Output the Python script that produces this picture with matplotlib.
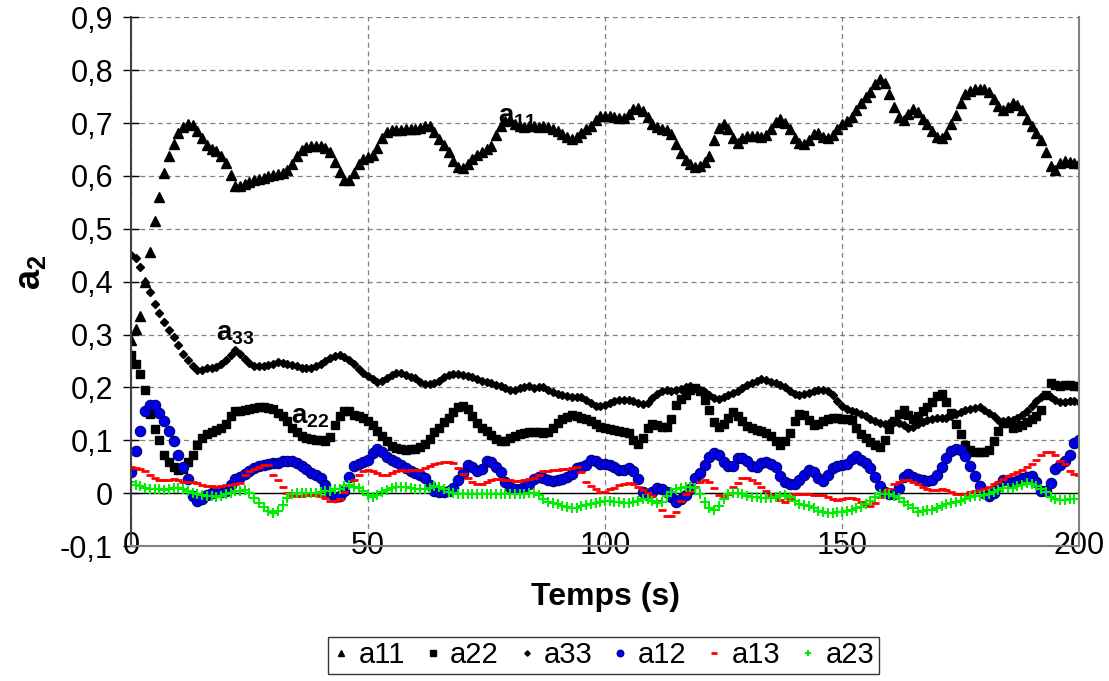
import numpy as np
import matplotlib
matplotlib.use("Agg")
import matplotlib.pyplot as plt

plt.rcParams['font.family'] = ['Liberation Sans', 'DejaVu Sans']
plt.rcParams['mathtext.fontset'] = 'custom'
plt.rcParams['mathtext.rm'] = 'Liberation Sans'
plt.rcParams['mathtext.bf'] = 'Liberation Sans:bold'

# temps (s), un point par seconde
temps = np.arange(0, 201)

a11 = [0.290, 0.310, 0.336, 0.400, 0.456, 0.515, 0.560, 0.605, 0.637, 0.660,
       0.681, 0.692, 0.699, 0.697, 0.685, 0.672, 0.658, 0.651, 0.647, 0.637,
       0.624, 0.602, 0.580, 0.581, 0.585, 0.589, 0.592, 0.595, 0.597, 0.599,
       0.601, 0.603, 0.606, 0.612, 0.623, 0.637, 0.649, 0.654, 0.656, 0.657,
       0.657, 0.652, 0.645, 0.627, 0.608, 0.592, 0.593, 0.605, 0.622, 0.632,
       0.636, 0.640, 0.652, 0.671, 0.683, 0.686, 0.687, 0.687, 0.688, 0.688,
       0.689, 0.690, 0.694, 0.695, 0.684, 0.670, 0.658, 0.646, 0.628, 0.617,
       0.615, 0.622, 0.632, 0.640, 0.645, 0.650, 0.657, 0.678, 0.695, 0.704,
       0.705, 0.698, 0.695, 0.693, 0.694, 0.695, 0.693, 0.694, 0.692, 0.689,
       0.685, 0.680, 0.674, 0.670, 0.674, 0.682, 0.688, 0.694, 0.705, 0.713,
       0.714, 0.714, 0.712, 0.710, 0.710, 0.718, 0.727, 0.728, 0.722, 0.711,
       0.698, 0.692, 0.689, 0.687, 0.680, 0.660, 0.643, 0.630, 0.622, 0.617,
       0.619, 0.627, 0.638, 0.668, 0.690, 0.698, 0.688, 0.672, 0.662, 0.672,
       0.676, 0.676, 0.675, 0.674, 0.677, 0.688, 0.702, 0.707, 0.700, 0.688,
       0.672, 0.663, 0.660, 0.667, 0.679, 0.682, 0.674, 0.671, 0.677, 0.688,
       0.699, 0.704, 0.712, 0.725, 0.738, 0.750, 0.758, 0.774, 0.784, 0.776,
       0.755, 0.730, 0.712, 0.706, 0.718, 0.727, 0.720, 0.708, 0.698, 0.685,
       0.674, 0.672, 0.680, 0.698, 0.715, 0.737, 0.755, 0.761, 0.765, 0.765,
       0.765, 0.758, 0.746, 0.732, 0.725, 0.730, 0.737, 0.735, 0.724, 0.708,
       0.695, 0.682, 0.667, 0.645, 0.618, 0.612, 0.624, 0.629, 0.626, 0.624,
       0.624]

a22 = [0.261, 0.245, 0.225, 0.195, 0.150, 0.122, 0.100, 0.072, 0.058, 0.050,
       0.043, 0.046, 0.058, 0.073, 0.091, 0.104, 0.112, 0.116, 0.119, 0.123,
       0.130, 0.145, 0.155, 0.156, 0.157, 0.159, 0.161, 0.163, 0.163, 0.161,
       0.159, 0.152, 0.146, 0.137, 0.124, 0.115, 0.108, 0.105, 0.103, 0.101,
       0.100, 0.099, 0.106, 0.128, 0.145, 0.156, 0.155, 0.148, 0.145, 0.142,
       0.137, 0.128, 0.118, 0.108, 0.099, 0.090, 0.086, 0.083, 0.082, 0.083,
       0.084, 0.087, 0.093, 0.102, 0.115, 0.124, 0.134, 0.143, 0.153, 0.162,
       0.164, 0.160, 0.146, 0.133, 0.123, 0.117, 0.110, 0.103, 0.098, 0.099,
       0.104, 0.108, 0.111, 0.113, 0.115, 0.116, 0.116, 0.114, 0.115, 0.123,
       0.132, 0.140, 0.144, 0.147, 0.145, 0.142, 0.141, 0.137, 0.130, 0.125,
       0.123, 0.121, 0.119, 0.118, 0.116, 0.114, 0.100, 0.093, 0.105, 0.123,
       0.131, 0.128, 0.125, 0.126, 0.140, 0.166, 0.178, 0.186, 0.195, 0.198,
       0.193, 0.177, 0.158, 0.135, 0.125, 0.130, 0.142, 0.153, 0.145, 0.136,
       0.127, 0.123, 0.120, 0.117, 0.113, 0.108, 0.098, 0.092, 0.098, 0.113,
       0.136, 0.149, 0.148, 0.139, 0.128, 0.131, 0.137, 0.141, 0.142, 0.143,
       0.141, 0.141, 0.139, 0.124, 0.111, 0.104, 0.097, 0.092, 0.088, 0.100,
       0.122, 0.137, 0.150, 0.157, 0.148, 0.141, 0.146, 0.156, 0.163, 0.173,
       0.183, 0.188, 0.172, 0.152, 0.130, 0.112, 0.092, 0.082, 0.078, 0.078,
       0.078, 0.081, 0.099, 0.118, 0.132, 0.132, 0.123, 0.125, 0.128, 0.134,
       0.140, 0.146, 0.158, 0.185, 0.208, 0.205, 0.202, 0.204, 0.204, 0.203,
       0.202]

a33 = [0.450, 0.445, 0.428, 0.400, 0.380, 0.357, 0.340, 0.324, 0.308, 0.296,
       0.280, 0.264, 0.252, 0.240, 0.233, 0.232, 0.236, 0.236, 0.238, 0.245,
       0.252, 0.262, 0.270, 0.263, 0.254, 0.247, 0.241, 0.240, 0.241, 0.243,
       0.245, 0.248, 0.246, 0.244, 0.243, 0.240, 0.237, 0.236, 0.236, 0.241,
       0.245, 0.250, 0.256, 0.260, 0.261, 0.258, 0.252, 0.244, 0.234, 0.227,
       0.222, 0.216, 0.211, 0.212, 0.218, 0.224, 0.228, 0.228, 0.224, 0.219,
       0.217, 0.211, 0.207, 0.206, 0.208, 0.213, 0.219, 0.224, 0.226, 0.226,
       0.224, 0.221, 0.219, 0.215, 0.212, 0.210, 0.208, 0.205, 0.202, 0.199,
       0.196, 0.195, 0.198, 0.201, 0.202, 0.199, 0.200, 0.201, 0.196, 0.191,
       0.188, 0.186, 0.184, 0.181, 0.181, 0.181, 0.176, 0.170, 0.165, 0.164,
       0.167, 0.171, 0.174, 0.176, 0.177, 0.176, 0.174, 0.171, 0.168, 0.171,
       0.180, 0.188, 0.193, 0.195, 0.193, 0.195, 0.197, 0.200, 0.202, 0.199,
       0.196, 0.191, 0.186, 0.180, 0.179, 0.181, 0.185, 0.189, 0.194, 0.199,
       0.204, 0.209, 0.212, 0.215, 0.214, 0.211, 0.209, 0.205, 0.200, 0.193,
       0.188, 0.186, 0.187, 0.190, 0.194, 0.195, 0.196, 0.194, 0.186, 0.175,
       0.165, 0.159, 0.156, 0.153, 0.150, 0.145, 0.141, 0.137, 0.133, 0.130,
       0.133, 0.135, 0.132, 0.128, 0.123, 0.126, 0.130, 0.135, 0.138, 0.141,
       0.143, 0.142, 0.143, 0.146, 0.149, 0.153, 0.158, 0.160, 0.161, 0.162,
       0.157, 0.152, 0.145, 0.139, 0.137, 0.138, 0.139, 0.143, 0.148, 0.155,
       0.164, 0.174, 0.181, 0.185, 0.182, 0.176, 0.172, 0.172, 0.175, 0.175,
       0.173]

a12 = [0.040, 0.080, 0.117, 0.155, 0.166, 0.166, 0.152, 0.137, 0.117, 0.098,
       0.073, 0.049, 0.026, -0.006, -0.014, -0.012, -0.004, 0.000, 0.002, 0.003,
       0.004, 0.015, 0.026, 0.030, 0.036, 0.042, 0.047, 0.052, 0.054, 0.056,
       0.057, 0.057, 0.060, 0.061, 0.060, 0.057, 0.052, 0.045, 0.038, 0.034,
       0.029, 0.016, 0.000, -0.007, -0.006, 0.004, 0.030, 0.052, 0.056, 0.058,
       0.063, 0.076, 0.083, 0.078, 0.068, 0.062, 0.058, 0.053, 0.047, 0.042,
       0.039, 0.034, 0.028, 0.015, 0.004, 0.002, 0.002, 0.004, 0.010, 0.024,
       0.038, 0.053, 0.050, 0.042, 0.046, 0.061, 0.059, 0.050, 0.040, 0.022,
       0.012, 0.008, 0.008, 0.012, 0.018, 0.026, 0.031, 0.028, 0.025, 0.023,
       0.024, 0.027, 0.031, 0.037, 0.048, 0.050, 0.054, 0.062, 0.060, 0.056,
       0.055, 0.054, 0.050, 0.044, 0.043, 0.048, 0.041, 0.026, 0.002, -0.003,
       0.002, 0.009, 0.008, 0.002, -0.008, -0.016, -0.012, -0.003, 0.008, 0.028,
       0.038, 0.054, 0.069, 0.076, 0.072, 0.059, 0.051, 0.052, 0.066, 0.067,
       0.060, 0.052, 0.050, 0.057, 0.059, 0.056, 0.050, 0.033, 0.021, 0.017,
       0.018, 0.024, 0.034, 0.044, 0.040, 0.028, 0.023, 0.034, 0.047, 0.052,
       0.053, 0.055, 0.065, 0.070, 0.063, 0.057, 0.048, 0.030, 0.014, 0.003,
       -0.001, -0.001, 0.009, 0.030, 0.036, 0.030, 0.026, 0.025, 0.023, 0.025,
       0.034, 0.049, 0.066, 0.079, 0.084, 0.081, 0.070, 0.052, 0.032, 0.014,
       0.000, -0.006, 0.001, 0.014, 0.025, 0.025, 0.021, 0.023, 0.028, 0.031,
       0.032, 0.022, 0.005, 0.004, 0.020, 0.045, 0.053, 0.060, 0.073, 0.095,
       0.100]

a13 = [0.050, 0.047, 0.045, 0.041, 0.035, 0.028, 0.024, 0.024, 0.025, 0.026,
       0.025, 0.022, 0.022, 0.022, 0.019, 0.016, 0.014, 0.013, 0.012, 0.013,
       0.015, 0.015, 0.017, 0.020, 0.034, 0.042, 0.046, 0.050, 0.054, 0.053,
       0.035, 0.025, 0.012, 0.000, -0.004, -0.005, -0.005, -0.004, -0.003, -0.003,
       -0.005, -0.010, -0.014, -0.015, -0.012, 0.002, 0.013, 0.024, 0.034, 0.042,
       0.043, 0.041, 0.038, 0.035, 0.035, 0.038, 0.041, 0.043, 0.042, 0.043,
       0.043, 0.044, 0.047, 0.051, 0.055, 0.057, 0.059, 0.059, 0.057, 0.047,
       0.037, 0.028, 0.021, 0.018, 0.018, 0.021, 0.024, 0.026, 0.026, 0.025,
       0.024, 0.023, 0.023, 0.025, 0.026, 0.028, 0.035, 0.041, 0.042, 0.043,
       0.043, 0.045, 0.046, 0.048, 0.049, 0.040, 0.022, 0.014, 0.008, 0.003,
       0.003, 0.007, 0.010, 0.015, 0.018, 0.019, 0.018, 0.012, 0.006, 0.000,
       -0.006, -0.014, -0.032, -0.044, -0.044, -0.035, -0.015, -0.002, 0.005, 0.012,
       0.021, 0.025, 0.021, 0.010, -0.003, -0.007, -0.002, 0.011, 0.020, 0.028,
       0.029, 0.025, 0.019, 0.011, 0.004, -0.003, -0.008, -0.013, -0.017, -0.012,
       -0.002, -0.001, -0.001, -0.002, -0.003, -0.003, -0.004, -0.008, -0.012, -0.013,
       -0.012, -0.010, -0.010, -0.012, -0.016, -0.023, -0.025, -0.018, -0.008, 0.003,
       0.008, 0.017, 0.021, 0.025, 0.025, 0.021, 0.017, 0.012, 0.007, 0.006,
       0.006, 0.007, 0.006, 0.003, -0.001, -0.002, -0.001, 0.002, 0.004, 0.006,
       0.007, 0.012, 0.017, 0.021, 0.026, 0.032, 0.036, 0.040, 0.044, 0.049,
       0.055, 0.063, 0.072, 0.077, 0.078, 0.073, 0.060, 0.055, 0.041, 0.036,
       0.034]

a23 = [0.021, 0.016, 0.013, 0.010, 0.008, 0.008, 0.008, 0.006, 0.008, 0.010,
       0.009, 0.007, 0.004, 0.000, -0.002, -0.003, -0.005, -0.006, -0.007, -0.005,
       -0.002, 0.001, 0.004, 0.005, 0.006, 0.000, -0.009, -0.018, -0.026, -0.033,
       -0.037, -0.033, -0.022, -0.010, -0.002, 0.000, 0.000, 0.001, 0.001, 0.001,
       0.002, 0.004, 0.005, 0.007, 0.008, 0.013, 0.015, 0.012, 0.009, 0.004,
       -0.004, -0.007, -0.003, 0.002, 0.006, 0.009, 0.011, 0.011, 0.011, 0.010,
       0.008, 0.008, 0.007, 0.010, 0.013, 0.011, 0.007, 0.003, 0.000, -0.002,
       -0.002, -0.002, -0.002, -0.002, -0.002, -0.002, -0.002, -0.001, -0.001, -0.001,
       -0.001, -0.001, -0.001, -0.001, 0.000, 0.000, -0.004, -0.012, -0.016, -0.018,
       -0.021, -0.024, -0.027, -0.029, -0.028, -0.025, -0.022, -0.021, -0.019, -0.017,
       -0.015, -0.015, -0.016, -0.017, -0.018, -0.018, -0.017, -0.015, -0.011, -0.011,
       -0.015, -0.018, -0.017, -0.006, 0.003, 0.007, 0.010, 0.012, 0.012, 0.010,
       -0.002, -0.017, -0.028, -0.032, -0.025, -0.012, -0.002, 0.001, 0.001, -0.001,
       -0.005, -0.007, -0.008, -0.009, -0.010, -0.010, -0.008, -0.006, -0.004, -0.008,
       -0.014, -0.020, -0.023, -0.025, -0.029, -0.033, -0.036, -0.038, -0.037, -0.035,
       -0.035, -0.034, -0.032, -0.029, -0.026, -0.020, -0.014, -0.007, -0.002, -0.001,
       -0.002, -0.005, -0.010, -0.016, -0.023, -0.029, -0.035, -0.034, -0.032, -0.031,
       -0.028, -0.025, -0.021, -0.018, -0.016, -0.014, -0.011, -0.008, -0.006, -0.005,
       -0.004, -0.002, 0.002, 0.006, 0.009, 0.009, 0.010, 0.013, 0.016, 0.019,
       0.018, 0.013, 0.008, 0.003, -0.008, -0.012, -0.013, -0.013, -0.012, -0.012,
       -0.012]

y_ticks = [-0.1, 0.0, 0.1, 0.2, 0.3, 0.4, 0.5, 0.6, 0.7, 0.8, 0.9]
y_labels = ['-0,1', '0', '0,1', '0,2', '0,3', '0,4', '0,5', '0,6', '0,7', '0,8', '0,9']
x_ticks = [0, 50, 100, 150, 200]

fig = plt.figure(figsize=(11.09, 6.81), dpi=100)
ax = fig.add_axes([0.1181, 0.1982, 0.8549, 0.7764])

ax.plot(temps, a11, ls='none', marker='^', ms=7, color='black', label='a11')
ax.plot(temps, a22, ls='none', marker='s', ms=6, color='black', label='a22')
ax.plot(temps, a33, ls='none', marker='D', ms=4.2, color='black', label='a33')
ax.plot(temps, a12, ls='none', marker='o', ms=7.5, mfc='#0000ee', mec='#000070',
        mew=0.8, label='a12')
ax.plot(temps, a13, ls='none', marker='_', ms=6, mew=2, color='#ff0000', label='a13')
ax.plot(temps, a23, ls='none', marker='+', ms=7, mew=1.5, color='#00ee00', label='a23')

ax.axhline(0, color='black', lw=1, zorder=1)

ax.set_xlim(0, 200)
ax.set_ylim(-0.1, 0.9)
ax.set_xticks(x_ticks)
ax.set_yticks(y_ticks)
ax.set_yticklabels(y_labels)
ax.tick_params(axis='y', direction='inout', length=12, width=1, labelsize=22, pad=7)
ax.tick_params(axis='x', length=0, labelsize=22, pad=-11)

ax.grid(True, color='#808080', ls=(0, (4, 3)), lw=0.9)
ax.set_axisbelow(True)
for s in ['left', 'bottom', 'right']:
    ax.spines[s].set_color('#808080')
    ax.spines[s].set_linewidth(1.5)
ax.spines['left'].set_color('#404040')
ax.spines['top'].set_visible(False)

ax.set_xlabel('Temps (s)', fontsize=23, fontweight='bold')
ax.xaxis.set_label_coords(0.5, -0.068)
fig.text(31 / 1109, 1 - 272 / 681, r'$\mathbf{a_2}$', fontsize=26, rotation=90,
         ha='center', va='center')

ax.text(77.5, 0.70, r'$\mathbf{a_{11}}$', fontsize=20, ha='left', va='baseline')
ax.text(18.0, 0.289, r'$\mathbf{a_{33}}$', fontsize=20, ha='left', va='baseline')
ax.text(33.8, 0.132, r'$\mathbf{a_{22}}$', fontsize=20, ha='left', va='baseline')

leg = fig.legend(loc='upper center', bbox_to_anchor=(0.544, 0.0646), ncol=6,
                 fontsize=21, frameon=True, fancybox=False, edgecolor='black',
                 markerscale=0.65, handlelength=0.6, handletextpad=0.3,
                 columnspacing=0.65, borderpad=0.15, borderaxespad=0,
                 numpoints=1)
leg.get_frame().set_linewidth(1.0)

fig.savefig('out.png', dpi=100)
